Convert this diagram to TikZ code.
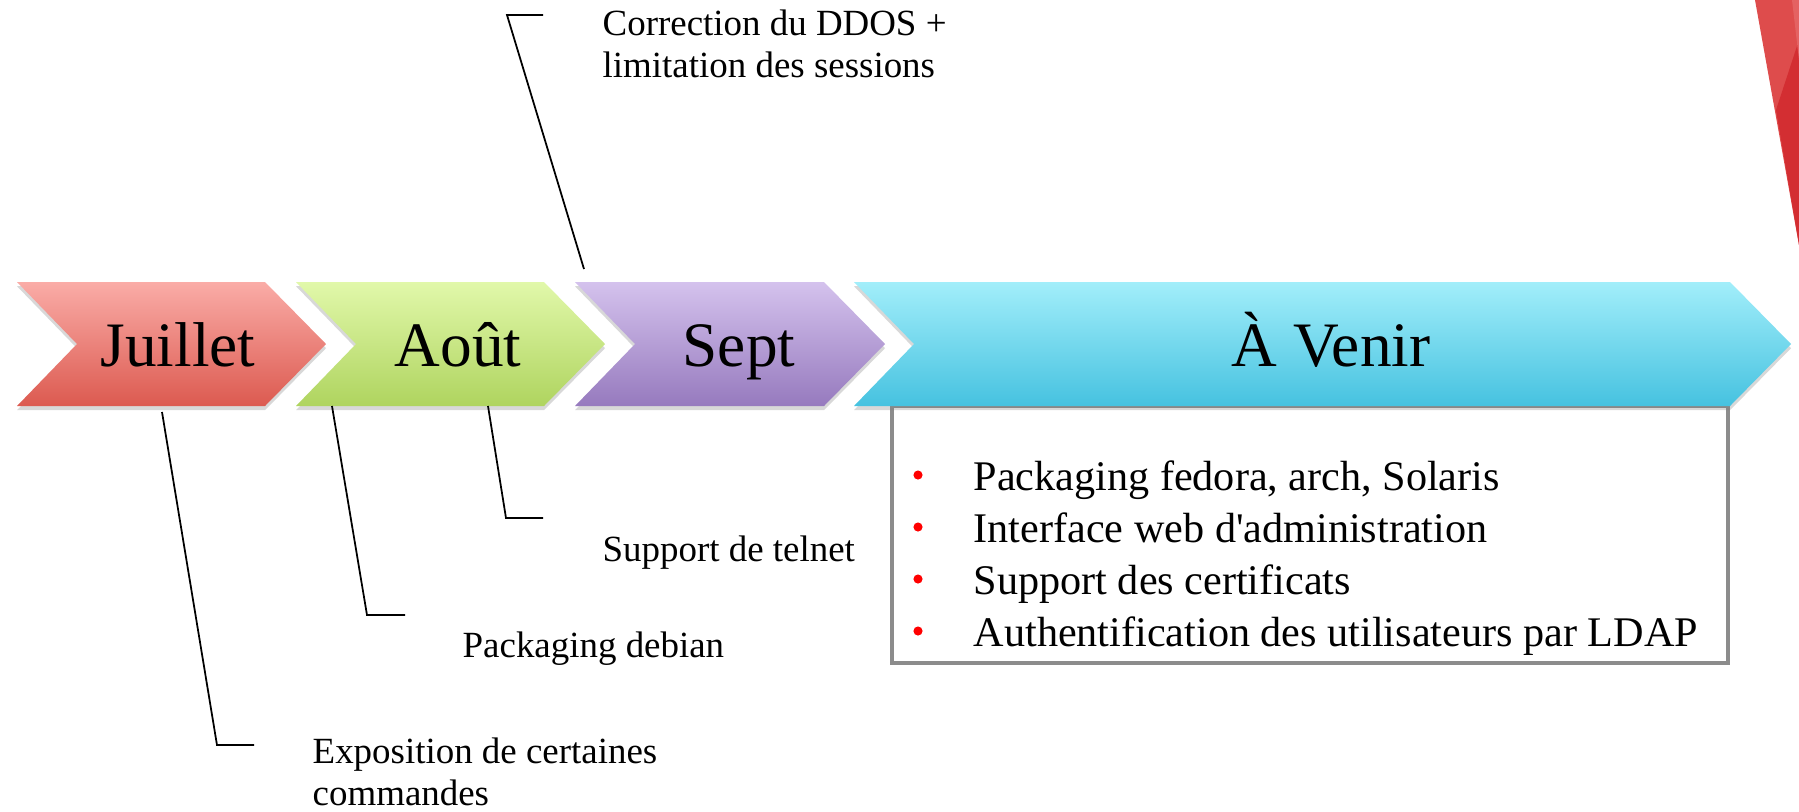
\documentclass[tikz,border=0pt]{standalone}
\usepackage{fontspec}
\setmainfont{Liberation Serif}
\usetikzlibrary{shadows}

\definecolor{julTop}{RGB}{250,172,167}
\definecolor{julBot}{RGB}{220,90,80}
\definecolor{aouTop}{RGB}{225,248,170}
\definecolor{aouBot}{RGB}{175,212,95}
\definecolor{sepTop}{RGB}{212,194,237}
\definecolor{sepBot}{RGB}{150,122,190}
\definecolor{venTop}{RGB}{162,238,250}
\definecolor{venBot}{RGB}{70,194,224}
\definecolor{boxGray}{RGB}{140,140,140}
\definecolor{cornerRed}{RGB}{222,76,76}
\definecolor{cornerDark}{RGB}{211,46,50}
\definecolor{cornerLight}{RGB}{228,98,98}

\tikzset{
  month/.style = {font=\fontsize{18}{21}\selectfont, anchor=base, inner sep=0pt},
  callout/.style = {font=\fontsize{10.5}{11.8}\selectfont, anchor=base west, align=left, inner sep=0pt},
  item/.style = {font=\fontsize{12}{14}\selectfont, anchor=base west, inner sep=0pt},
  leader/.style = {draw=black, line width=0.5pt},
  chevshadow/.style = {drop shadow={shadow xshift=0pt, shadow yshift=-1.2pt, opacity=0.3}}
}

% chevron: left x, right x of body, top colour, bottom colour
\newcommand{\chevron}[4]{%
  \path[chevshadow, top color=#3, bottom color=#4]
    (#1,282) -- (#2,282) -- ++(61,62) -- ++(-61,62) -- (#1,406) -- ++(60,-62) -- cycle;}

\begin{document}
\begin{tikzpicture}[x=0.01cm, y=-0.01cm]
  \path[fill=white] (0,0) rectangle (1799,811);
  \useasboundingbox (0,0) rectangle (1799,811);

  % red corner
  \fill[cornerRed] (1755,0) -- (1799,0) -- (1799,245) -- cycle;
  \fill[cornerDark] (1776,110) -- (1799,40) -- (1799,245) -- cycle;
  \fill[cornerLight] (1792,0) -- (1799,0) -- (1799,60) -- cycle;

  % box under the last chevron
  \draw[draw=boxGray, line width=1.1pt, fill=white,
        drop shadow={shadow xshift=0.6pt, shadow yshift=-0.6pt, opacity=0.3}]
    (892,406) rectangle (1728,663);

  % chevrons
  \chevron{17}{265}{julTop}{julBot}
  \chevron{296}{544}{aouTop}{aouBot}
  \chevron{575}{824}{sepTop}{sepBot}
  \chevron{854}{1730}{venTop}{venBot}

  \node[month] (juillet) at (178,366) {Juillet};
  \node[month] (aout) at (458,366) {Août};
  \node[month] (sept) at (739,366) {Sept};
  \node[month] (avenir) at (1331,366) {À Venir};

  % callouts (base = last line)
  \node[callout] (ddos) at (602,77) {Correction du DDOS +\\limitation des sessions};
  \node[callout] (telnet) at (602,561) {Support de telnet};
  \node[callout] (debian) at (462,657) {Packaging debian};
  \node[callout] (expo) at (312,805) {Exposition de certaines\\commandes};

  \coordinate (ddosA) at (584,269);
  \coordinate (ddosB) at (507,15);
  \coordinate (telnetA) at (488,406);
  \coordinate (telnetB) at (506,518);
  \coordinate (debianA) at (332,406);
  \coordinate (debianB) at (367,615);
  \coordinate (expoA) at (162,412);
  \coordinate (expoB) at (217,745);

  \draw[leader] (ddosA) -- (ddosB) -- ++(36,0);
  \draw[leader] (telnetA) -- (telnetB) -- ++(37,0);
  \draw[leader] (debianA) -- (debianB) -- ++(38,0);
  \draw[leader] (expoA) -- (expoB) -- ++(37,0);

  % list of what comes next
  \foreach \txt [count=\i] in {{Packaging fedora, arch, Solaris},
                               {Interface web d\textquotesingle administration},
                               {Support des certificats},
                               {Authentification des utilisateurs par LDAP}} {
    \node[item] (item\i) at (973,438+52*\i) {\txt};
    \fill[red] (918,423+52*\i) circle[radius=1.3pt];
  }
\end{tikzpicture}
\end{document}
